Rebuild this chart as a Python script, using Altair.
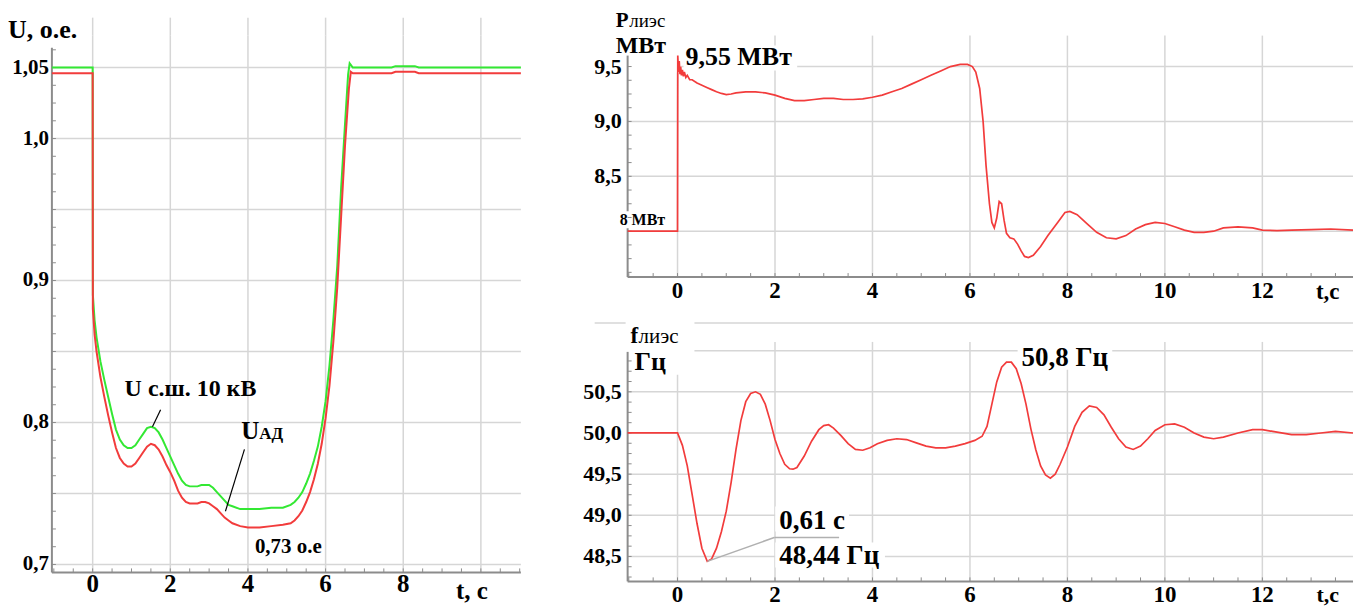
import altair as alt
import pandas as pd

FONT = "Liberation Serif"
GREEN = "#33e833"
RED = "#f23c3c"
GRID = "#d6d6d6"
AXISC = "#8c8c8c"

# ---------------- data ----------------
t_bus = [-1.05, 0.0, 0.005, 0.05, 0.1, 0.2, 0.3, 0.4, 0.5, 0.6, 0.7, 0.8, 0.9, 1.0, 1.1, 1.2, 1.3,
         1.4, 1.5, 1.6, 1.7, 1.8, 1.9, 2.0, 2.1, 2.2, 2.3, 2.4, 2.5, 2.6, 2.7, 2.8, 2.9, 3.0, 3.1,
         3.2, 3.3, 3.4, 3.5, 3.6, 3.8, 4.0, 4.3, 4.6, 4.9, 5.1, 5.2, 5.3, 5.4, 5.5, 5.6, 5.7, 5.8,
         5.9, 6.0, 6.1, 6.2, 6.3, 6.4, 6.5, 6.58, 6.62, 6.7, 7.7, 7.8, 8.3, 8.4, 11.03]
u_bus = [1.05, 1.05, 0.89, 0.872, 0.86, 0.843, 0.83, 0.818, 0.806, 0.795, 0.788, 0.784, 0.782,
         0.782, 0.784, 0.788, 0.792, 0.796, 0.797, 0.796, 0.793, 0.788, 0.782, 0.776, 0.770, 0.764,
         0.759, 0.756, 0.755, 0.755, 0.755, 0.756, 0.756, 0.756, 0.754, 0.751, 0.748, 0.745, 0.742,
         0.741, 0.739, 0.739, 0.739, 0.740, 0.740, 0.742, 0.744, 0.747, 0.751, 0.757, 0.764, 0.773,
         0.783, 0.797, 0.815, 0.840, 0.872, 0.910, 0.965, 1.010, 1.045, 1.053, 1.050, 1.050, 1.051,
         1.051, 1.050, 1.050]

t_ad = [-1.05, 0.0, 0.005, 0.05, 0.1, 0.2, 0.3, 0.4, 0.5, 0.6, 0.7, 0.8, 0.9, 1.0, 1.1, 1.2, 1.3,
        1.4, 1.5, 1.6, 1.7, 1.8, 1.9, 2.0, 2.1, 2.2, 2.3, 2.4, 2.5, 2.6, 2.7, 2.8, 2.9, 3.0, 3.1,
        3.2, 3.3, 3.4, 3.5, 3.6, 3.8, 4.0, 4.3, 4.6, 4.9, 5.1, 5.2, 5.3, 5.4, 5.5, 5.6, 5.7, 5.8,
        5.9, 6.0, 6.1, 6.2, 6.3, 6.4, 6.5, 6.6, 6.65, 6.7, 7.7, 7.8, 8.3, 8.4, 11.03]
u_ad = [1.046, 1.046, 0.88, 0.862, 0.85, 0.832, 0.818, 0.805, 0.793, 0.782, 0.775, 0.771, 0.769,
        0.769, 0.771, 0.775, 0.779, 0.783, 0.785, 0.784, 0.781, 0.776, 0.770, 0.765, 0.759, 0.752,
        0.747, 0.744, 0.743, 0.743, 0.743, 0.744, 0.744, 0.743, 0.741, 0.739, 0.736, 0.733, 0.731,
        0.729, 0.727, 0.726, 0.726, 0.727, 0.728, 0.729, 0.731, 0.734, 0.738, 0.744, 0.751, 0.760,
        0.771, 0.785, 0.803, 0.826, 0.857, 0.895, 0.945, 0.995, 1.035, 1.047, 1.046, 1.046, 1.047,
        1.047, 1.046, 1.046]

t_p = [-1.024, 0.0, 0.005, 0.02, 0.035, 0.05, 0.065, 0.08, 0.1, 0.12, 0.14, 0.17, 0.2, 0.25, 0.3,
       0.4, 0.5, 0.6, 0.7, 0.8, 0.9, 1.0, 1.1, 1.2, 1.4, 1.6, 1.8, 2.0, 2.2, 2.4, 2.6, 2.8, 3.0,
       3.2, 3.4, 3.6, 3.8, 4.0, 4.2, 4.4, 4.6, 4.8, 5.0, 5.2, 5.4, 5.6, 5.8, 5.95, 6.05, 6.12, 6.2,
       6.27, 6.33, 6.4, 6.45, 6.5, 6.55, 6.6, 6.65, 6.7, 6.75, 6.82, 6.9, 6.98, 7.05, 7.12, 7.2,
       7.3, 7.45, 7.6, 7.8, 7.95, 8.05, 8.2, 8.4, 8.6, 8.8, 9.0, 9.2, 9.4, 9.6, 9.8, 10.0, 10.2,
       10.4, 10.6, 10.8, 11.0, 11.2, 11.5, 11.8, 12.0, 12.3, 12.6, 13.0, 13.4, 13.86]
p_val = [8.0, 8.0, 9.6, 9.45, 9.55, 9.43, 9.5, 9.42, 9.47, 9.41, 9.45, 9.40, 9.42, 9.38, 9.38,
         9.35, 9.33, 9.31, 9.29, 9.27, 9.255, 9.245, 9.25, 9.26, 9.27, 9.27, 9.26, 9.24, 9.21, 9.19,
         9.19, 9.20, 9.21, 9.21, 9.20, 9.20, 9.205, 9.22, 9.24, 9.27, 9.30, 9.34, 9.38, 9.42, 9.46,
         9.50, 9.52, 9.52, 9.50, 9.45, 9.30, 9.00, 8.60, 8.25, 8.08, 8.03, 8.12, 8.27, 8.25, 8.10,
         7.98, 7.94, 7.93, 7.88, 7.82, 7.77, 7.76, 7.78, 7.86, 7.96, 8.08, 8.17, 8.18, 8.15, 8.07,
         7.99, 7.94, 7.93, 7.96, 8.02, 8.06, 8.08, 8.07, 8.04, 8.01, 7.99, 7.99, 8.0, 8.03, 8.04,
         8.03, 8.01, 8.005, 8.01, 8.015, 8.02, 8.01]

t_f = [-1.024, 0.0, 0.1, 0.2, 0.3, 0.4, 0.5, 0.61, 0.7, 0.8, 0.9, 1.0, 1.1, 1.2, 1.3, 1.4, 1.5,
       1.6, 1.7, 1.8, 1.9, 2.0, 2.1, 2.2, 2.3, 2.37, 2.45, 2.6, 2.75, 2.9, 3.0, 3.1, 3.2, 3.35,
       3.5, 3.65, 3.8, 3.95, 4.1, 4.3, 4.5, 4.7, 4.9, 5.1, 5.3, 5.5, 5.7, 5.9, 6.1, 6.25, 6.35,
       6.45, 6.55, 6.65, 6.75, 6.85, 6.95, 7.05, 7.15, 7.25, 7.35, 7.45, 7.55, 7.65, 7.75, 7.85,
       8.0, 8.15, 8.3, 8.45, 8.6, 8.75, 8.9, 9.05, 9.2, 9.35, 9.5, 9.65, 9.8, 10.0, 10.2, 10.4,
       10.6, 10.8, 11.0, 11.2, 11.5, 11.8, 12.0, 12.3, 12.6, 12.9, 13.2, 13.5, 13.86]
f_val = [50.0, 50.0, 49.85, 49.6, 49.25, 48.9, 48.6, 48.44, 48.47, 48.6, 48.8, 49.05, 49.4, 49.8,
         50.15, 50.38, 50.48, 50.5, 50.47, 50.35, 50.15, 49.92, 49.75, 49.62, 49.565, 49.56,
         49.58, 49.72, 49.9, 50.04, 50.09, 50.1, 50.06, 49.97, 49.87, 49.8, 49.79, 49.82, 49.87,
         49.91, 49.93, 49.92, 49.88, 49.84, 49.82, 49.82, 49.84, 49.87, 49.91, 49.96, 50.08,
         50.35, 50.62, 50.8, 50.86, 50.86, 50.78, 50.6, 50.35, 50.05, 49.8, 49.6, 49.49, 49.45,
         49.5, 49.62, 49.83, 50.08, 50.25, 50.33, 50.31, 50.22, 50.07, 49.93, 49.83, 49.8, 49.84,
         49.93, 50.03, 50.1, 50.11, 50.07, 50.0, 49.95, 49.93, 49.95, 50.0, 50.04, 50.04, 50.01,
         49.98, 49.98, 50.0, 50.02, 50.0]

# grid values, tick values and tick labels
left_x_grid = [0, 2, 4, 6, 8, 10]
left_x_tick_vals = [0, 2, 4, 6, 8]
left_x_tick_text = ["0", "2", "4", "6", "8"]
left_y_grid = [0.70, 0.75, 0.80, 0.85, 0.90, 0.95, 1.00, 1.05]
left_y_tick_vals = [0.70, 0.80, 0.90, 1.00, 1.05]
left_y_tick_text = ["0,7", "0,8", "0,9", "1,0", "1,05"]
right_x_grid = [0, 2, 4, 6, 8, 10, 12]
right_x_tick_text = ["0", "2", "4", "6", "8", "10", "12"]
p_grid = [8.0, 8.5, 9.0, 9.5]
p_tick_vals = [8.5, 9.0, 9.5]
p_tick_text = ["8,5", "9,0", "9,5"]
f_grid = [48.5, 49.0, 49.5, 50.0, 50.5, 51.0]
f_tick_vals = [48.5, 49.0, 49.5, 50.0, 50.5]
f_tick_text = ["48,5", "49,0", "49,5", "50,0", "50,5"]
left_minor_y = [round(0.7 + 0.0125 * k, 4) for k in range(30)]
left_minor_x = [-1.0 + 0.5 * k for k in range(25)]
p_minor_y = [round(7.625 + 0.125 * k, 3) for k in range(16)]
f_minor_y = [round(48.25 + 0.125 * k, 3) for k in range(22)]
right_minor_x = [-1.0 + 0.5 * k for k in range(30)]

ONE = pd.DataFrame({"k": [0]})


def xd(v, sc):
    return alt.XDatum(v, scale=sc, axis=None)


def yd(v, sc):
    return alt.YDatum(v, scale=sc, axis=None)


def text(s, t, v, xs, ys, size, weight="bold", align="left", baseline="alphabetic"):
    return alt.Chart(ONE).mark_text(
        text=s, font=FONT, fontSize=size, fontWeight=weight, align=align,
        baseline=baseline, color="black"
    ).encode(x=xd(t, xs), y=yd(v, ys))


def box(t1, t2, v1, v2, xs, ys):
    return alt.Chart(ONE).mark_rect(color="white").encode(
        x=xd(t1, xs), x2=alt.X2Datum(t2), y=yd(v1, ys), y2=alt.Y2Datum(v2))


def seg(t1, v1, t2, v2, xs, ys, color="black", w=1.2):
    return alt.Chart(ONE).mark_rule(color=color, strokeWidth=w).encode(
        x=xd(t1, xs), x2=alt.X2Datum(t2), y=yd(v1, ys), y2=alt.Y2Datum(v2))


def vgrid(vals, xs):
    return alt.Chart(pd.DataFrame({"v": vals})).mark_rule(color=GRID, strokeWidth=1.5).encode(
        x=alt.X("v:Q", scale=xs, axis=None))


def hgrid(vals, ys):
    return alt.Chart(pd.DataFrame({"v": vals})).mark_rule(color=GRID, strokeWidth=1.5).encode(
        y=alt.Y("v:Q", scale=ys, axis=None))


def xlabels(vals, labels, xs, h, pad, size):
    return alt.Chart(pd.DataFrame({"v": vals, "l": labels})).mark_text(
        font=FONT, fontSize=size, fontWeight="bold", align="center", baseline="top",
        color="black").encode(x=alt.X("v:Q", scale=xs, axis=None), y=alt.value(h + pad),
                              text="l:N")


def ylabels(vals, labels, ys, pad, size):
    return alt.Chart(pd.DataFrame({"v": vals, "l": labels})).mark_text(
        font=FONT, fontSize=size, fontWeight="bold", align="right", baseline="middle",
        color="black").encode(y=alt.Y("v:Q", scale=ys, axis=None), x=alt.value(-pad),
                              text="l:N")


def minor_y(vals, ys):
    return alt.Chart(pd.DataFrame({"v": vals})).mark_rule(color=AXISC, strokeWidth=1).encode(
        y=alt.Y("v:Q", scale=ys, axis=None), x=alt.value(0), x2=alt.value(4))


def minor_x(vals, xs, h):
    return alt.Chart(pd.DataFrame({"v": vals})).mark_rule(color=AXISC, strokeWidth=1).encode(
        x=alt.X("v:Q", scale=xs, axis=None), y=alt.value(h - 4), y2=alt.value(h))


# ---------------- left panel: voltages ----------------
LW, LH = 470, 538
XL = alt.Scale(domain=[-1.05, 11.03], nice=False, zero=False)
YL = alt.Scale(domain=[0.6944, 1.0725], nice=False, zero=False)

df_u = pd.DataFrame({
    "t": t_bus + t_ad,
    "u": u_bus + u_ad,
    "s": ["U с.ш. 10 кВ"] * len(t_bus) + ["UАД"] * len(t_ad),
    "i": list(range(len(t_bus))) + list(range(len(t_ad))),
})

u_lines = alt.Chart(df_u).mark_line(strokeWidth=2).encode(
    x=alt.X("t:Q", scale=XL, axis=None),
    y=alt.Y("u:Q", scale=YL, axis=None),
    color=alt.Color("s:N", scale=alt.Scale(domain=["UАД", "U с.ш. 10 кВ"], range=[RED, GREEN]),
                    legend=None),
    order=alt.Order("i:Q"),
)

grid_ext = alt.Chart(pd.DataFrame({"v": left_x_grid})).mark_rule(
    color=GRID, strokeWidth=1.5).encode(
    x=alt.X("v:Q", scale=XL, axis=None), y=alt.value(-18), y2=alt.value(0))

left = alt.layer(
    vgrid(left_x_grid, XL),
    grid_ext,
    hgrid(left_y_grid, YL),
    seg(-1.05, 0.6944, -1.05, 1.064, XL, YL, AXISC, 2),
    seg(-1.05, 0.6944, 11.03, 0.6944, XL, YL, AXISC, 2),
    minor_y(left_minor_y, YL),
    minor_x(left_minor_x, XL, LH),
    u_lines,
    xlabels(left_x_tick_vals, left_x_tick_text, XL, LH, 0, 25),
    ylabels(left_y_tick_vals, left_y_tick_text, YL, 3, 21),
    text("U, о.е.", -2.18, 1.0767, XL, YL, 26, baseline="middle"),
    text("U с.ш. 10 кВ", 2.52, 0.8237, XL, YL, 24, align="center", baseline="middle"),
    seg(1.75, 0.809, 1.54, 0.797, XL, YL),
    text("U", 3.83, 0.7885, XL, YL, 25),
    text("АД", 4.29, 0.7885, XL, YL, 17),
    seg(3.91, 0.7811, 3.42, 0.7375, XL, YL),
    text("0,73 о.е", 5.04, 0.7126, XL, YL, 21, align="center", baseline="middle"),
    text("t, с", 9.77, 0.681, XL, YL, 25, align="center", baseline="middle"),
).properties(width=LW, height=LH)

# ---------------- right top: power ----------------
RW = 727
XR = alt.Scale(domain=[-1.024, 13.86], nice=False, zero=False)
YP = alt.Scale(domain=[7.582, 9.782], nice=False, zero=False)

p_line = alt.Chart(pd.DataFrame({"t": t_p, "p": p_val, "i": list(range(len(t_p)))})).mark_line(
    color=RED, strokeWidth=1.7).encode(
    x=alt.X("t:Q", scale=XR, axis=None),
    y=alt.Y("p:Q", scale=YP, axis=None),
    order=alt.Order("i:Q"),
)

top = alt.layer(
    vgrid(right_x_grid, XR),
    hgrid(p_grid, YP),
    box(-1.33, 0.081, 10.01, 9.446, XR, YP),
    box(0.122, 2.455, 9.691, 9.464, XR, YP),
    seg(-1.024, 7.582, -1.024, 9.6, XR, YP, AXISC, 2),
    seg(-1.024, 7.582, 13.86, 7.582, XR, YP, AXISC, 2),
    box(-1.229, -0.206, 8.182, 8.027, XR, YP),
    minor_y(p_minor_y, YP),
    minor_x(right_minor_x, XR, 242),
    p_line,
    xlabels(right_x_grid, right_x_tick_text, XR, 242, 3, 23),
    ylabels(p_tick_vals, p_tick_text, YP, 6, 22),
    text("Р", -1.27, 9.864, XR, YP, 21),
    text("лиэс", -0.99, 9.864, XR, YP, 19, weight="normal"),
    text("МВт", -1.27, 9.622, XR, YP, 24),
    text("9,55 МВт", 0.163, 9.518, XR, YP, 26),
    text("8 МВт", -1.188, 8.055, XR, YP, 16),
    text("t,с", 13.34, 7.446, XR, YP, 23, align="center", baseline="middle"),
).properties(width=RW, height=242)

# ---------------- right bottom: frequency ----------------
YF = alt.Scale(domain=[48.197, 51.106], nice=False, zero=False)

f_line = alt.Chart(pd.DataFrame({"t": t_f, "f": f_val, "i": list(range(len(t_f)))})).mark_line(
    color=RED, strokeWidth=1.7).encode(
    x=alt.X("t:Q", scale=XR, axis=None),
    y=alt.Y("f:Q", scale=YF, axis=None),
    order=alt.Order("i:Q"),
)

bottom = alt.layer(
    vgrid(right_x_grid, XR),
    hgrid(f_grid, YF),
    seg(-1.70, 51.336, 13.86, 51.336, XR, YF, GRID, 1.5),
    box(-1.065, 0.347, 51.397, 50.706, XR, YF),
    box(6.978, 8.92, 51.106, 50.767, XR, YF),
    box(2.005, 3.52, 49.106, 48.803, XR, YF),
    box(2.005, 4.256, 48.67, 48.367, XR, YF),
    seg(-1.024, 48.197, -1.024, 50.985, XR, YF, AXISC, 2),
    seg(-1.024, 48.197, 13.86, 48.197, XR, YF, AXISC, 2),
    minor_y(f_minor_y, YF),
    minor_x(right_minor_x, XR, 240),
    f_line,
    seg(0.61, 48.44, 1.985, 48.73, XR, YF, "#b0b0b0", 1.5),
    seg(1.985, 48.73, 3.315, 48.73, XR, YF, "#b0b0b0", 1.5),
    xlabels(right_x_grid, right_x_tick_text, XR, 240, 3, 23),
    ylabels(f_tick_vals, f_tick_text, YF, 6, 22),
    text("f", -0.963, 51.095, XR, YF, 23),
    text("лиэс", -0.799, 51.095, XR, YF, 21, weight="normal"),
    text("Гц", -0.881, 50.767, XR, YF, 26),
    text("50,8 Гц", 7.06, 50.815, XR, YF, 27),
    text("0,61 с", 2.087, 48.839, XR, YF, 27),
    text("48,44 Гц", 2.087, 48.403, XR, YF, 27),
    text("t,с", 13.34, 48.027, XR, YF, 22, align="center", baseline="middle"),
).properties(width=RW, height=240)

right = alt.vconcat(top, bottom, spacing=13)

chart = alt.hconcat(left, right, spacing=58).properties(
    padding={"left": 0, "top": 0, "right": 0, "bottom": 0},
    background="white",
).configure_view(stroke=None)

chart.save("out.html", embed_options={"renderer": "svg", "actions": False})
